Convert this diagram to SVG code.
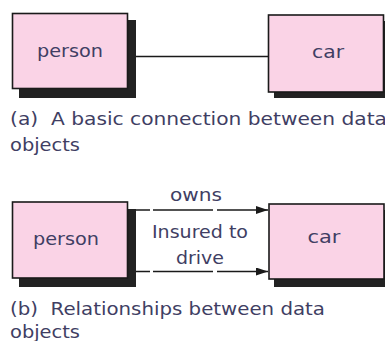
<svg xmlns="http://www.w3.org/2000/svg" width="385" height="341" viewBox="0 0 385 341">
<style>
.box{fill:#fad3e6;stroke:#1a1a1a;stroke-width:1.6}
.shadow{fill:#222}
.lbl{font-family:"DejaVu Sans",sans-serif;font-size:18.5px;fill:#403e63}
.cap{font-family:"DejaVu Sans",sans-serif;font-size:18.5px;fill:#403e63;white-space:pre}
.conn{stroke:#1a1a1a;stroke-width:1.6;fill:none}
.dash{stroke-dasharray:16 3 60 4 60 4}
</style>
<defs>
<marker id="arr" markerWidth="12" markerHeight="8" refX="12" refY="4" orient="auto" markerUnits="userSpaceOnUse">
<path d="M0,0 L12,4 L0,8 Z" fill="#1a1a1a"/>
</marker>
</defs>
<rect width="385" height="341" fill="#fff"/>
<g id="connectors">
<line class="conn" x1="136" y1="56.5" x2="268" y2="56.5"/>
<line class="conn dash" x1="134" y1="210" x2="268" y2="210" marker-end="url(#arr)"/>
<line class="conn dash" x1="134" y1="271.5" x2="268" y2="271.5" marker-end="url(#arr)"/>
</g>
<g id="person-a">
<rect class="shadow" x="19" y="20" width="117" height="78"/>
<rect class="box" x="12.5" y="13.5" width="115" height="75"/>
<text class="lbl" x="70" y="57" text-anchor="middle" textLength="66" lengthAdjust="spacingAndGlyphs">person</text>
</g>
<g id="car-a">
<rect class="shadow" x="274" y="21" width="117" height="77"/>
<rect class="box" x="268.5" y="15" width="115" height="77"/>
<text class="lbl" x="328" y="58" text-anchor="middle" textLength="32" lengthAdjust="spacingAndGlyphs">car</text>
</g>
<g id="person-b">
<rect class="shadow" x="19" y="209" width="117" height="78"/>
<rect class="box" x="12.5" y="202" width="115" height="76"/>
<text class="lbl" x="66" y="245" text-anchor="middle" textLength="66" lengthAdjust="spacingAndGlyphs">person</text>
</g>
<g id="car-b">
<rect class="shadow" x="274" y="210" width="117" height="77"/>
<rect class="box" x="269" y="204" width="115" height="75"/>
<text class="lbl" x="324" y="243" text-anchor="middle" textLength="33" lengthAdjust="spacingAndGlyphs">car</text>
</g>
<g id="edge-labels">
<text class="lbl" x="196" y="201" text-anchor="middle" textLength="52" lengthAdjust="spacingAndGlyphs">owns</text>
<text class="lbl" x="200" y="238" text-anchor="middle" textLength="96" lengthAdjust="spacingAndGlyphs">Insured to</text>
<text class="lbl" x="200" y="264" text-anchor="middle" textLength="48" lengthAdjust="spacingAndGlyphs">drive</text>
</g>
<g id="captions">
<text class="cap" x="10" y="125" textLength="377" lengthAdjust="spacingAndGlyphs" xml:space="preserve">(a)  A basic connection between data</text>
<text class="cap" x="10" y="151" textLength="70" lengthAdjust="spacingAndGlyphs">objects</text>
<text class="cap" x="10" y="315" textLength="315" lengthAdjust="spacingAndGlyphs" xml:space="preserve">(b)  Relationships between data</text>
<text class="cap" x="10" y="338" textLength="70" lengthAdjust="spacingAndGlyphs">objects</text>
</g>
</svg>
